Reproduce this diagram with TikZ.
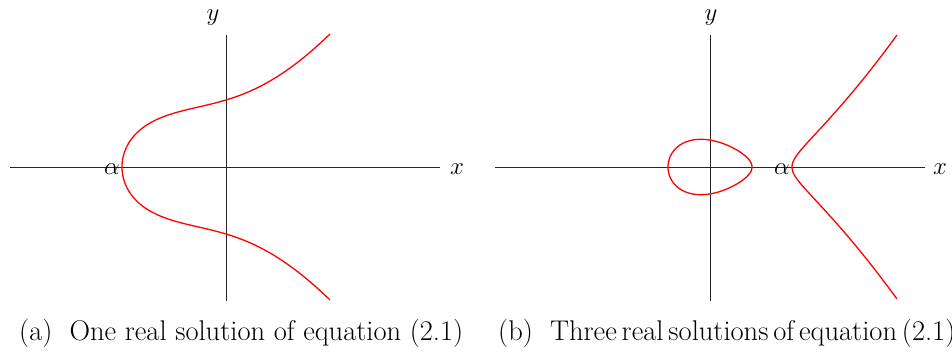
\documentclass[tikz,border=0pt]{standalone}
\begin{document}
\begin{tikzpicture}[x=1pt,y=-1pt,
  axis/.style={line width=0.9pt,black!85},
  curve/.style={line width=1.3pt,red},
  axlabel/.style={font=\fontsize{30}{32}\selectfont,inner sep=0pt,anchor=base},
  caption/.style={font=\fontsize{28.5}{32}\selectfont,inner sep=0pt,anchor=base west}]
\useasboundingbox (0,0) rectangle (952,358);
% ---- panel (a)
\coordinate (axl) at (10,167);
\coordinate (axr) at (440,167);
\coordinate (ayt) at (226,35);
\coordinate (ayb) at (226,301);
\draw[axis] (axl) -- (axr);
\draw[axis] (ayt) -- (ayb);
\draw[curve] plot[domain=-14.422:14.422,samples=161,smooth]
  ({122+\x*\x},{167-\x*6.43*sqrt(((\x*\x-107.305)/100)^2+1.0428)});
\node[axlabel] (xa) at (457,175) {$x$};
\node[axlabel] (ya) at (213,21) {$y$};
\node[axlabel] (aa) at (112,175) {$\alpha$};
\node[caption] (capa) at (19,340) {(a)\hspace{0.6em}One real solution of equation (2.1)};
% ---- panel (b)
\coordinate (bxl) at (495,167);
\coordinate (bxr) at (925,167);
\coordinate (byt) at (710,35);
\coordinate (byb) at (710,301);
\draw[axis] (bxl) -- (bxr);
\draw[axis] (byt) -- (byb);
\draw[curve] plot[domain=0:360,samples=121,smooth]
  ({710-42*cos(\x)},{167-42*sin(\x)*sqrt(0.005*(82+42*cos(\x)))}) -- cycle;
\draw[curve] plot[domain=-10.247:10.247,samples=141,smooth]
  ({792+\x*\x},{167-\x*0.07071*sqrt(124+\x*\x)*sqrt(40+\x*\x)});
\node[axlabel] (xb) at (940,175) {$x$};
\node[axlabel] (yb) at (711,21) {$y$};
\node[axlabel] (ab) at (782,175) {$\alpha$};
\node[caption] (capb) at (498,340) {(b)\hspace{0.6em}Three\hspace{0.17em}real\hspace{0.17em}solutions\hspace{0.17em}of\hspace{0.17em}equation\hspace{0.17em}(2.1)};
\end{tikzpicture}
\end{document}
